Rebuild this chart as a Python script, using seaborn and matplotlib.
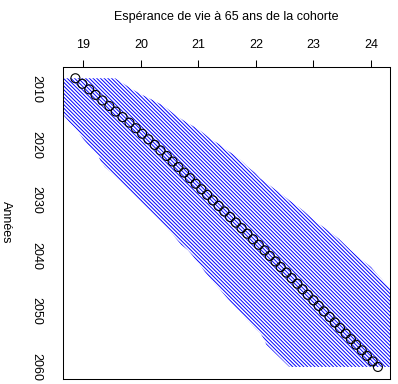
import numpy as np
import pandas as pd
import matplotlib
matplotlib.use("Agg")
import matplotlib.pyplot as plt
import seaborn as sns

years = list(range(2008, 2061))

esperance = [18.86, 18.98, 19.10, 19.21, 19.33, 19.45, 19.56, 19.68, 19.80, 19.91,
             20.02, 20.13, 20.24, 20.34, 20.45, 20.55, 20.65, 20.75, 20.85, 20.95,
             21.05, 21.15, 21.25, 21.35, 21.45, 21.55, 21.65, 21.75, 21.85, 21.95,
             22.05, 22.15, 22.24, 22.34, 22.43, 22.53, 22.62, 22.72, 22.81, 22.90,
             23.00, 23.09, 23.18, 23.28, 23.37, 23.46, 23.56, 23.65, 23.74, 23.84,
             23.93, 24.03, 24.12]

borne_haute = [19.55, 19.70, 19.85, 20.02, 20.22, 20.40, 20.52, 20.65, 20.80, 20.97,
               21.10, 21.22, 21.38, 21.50, 21.65, 21.76, 21.86, 21.98, 22.07, 22.20,
               22.33, 22.46, 22.58, 22.72, 22.84, 22.95, 23.06, 23.20, 23.33, 23.45,
               23.55, 23.65, 23.76, 23.88, 24.00, 24.08, 24.17, 24.26, 24.34, 24.45,
               24.55, 24.65, 24.75, 24.85, 24.95, 25.05, 25.15, 25.25, 25.35, 25.45,
               25.55, 25.65, 25.75]

borne_basse = [18.10, 18.20, 18.28, 18.36, 18.45, 18.52, 18.60, 18.68, 18.76, 18.86,
               18.93, 19.00, 19.08, 19.18, 19.26, 19.30, 19.37, 19.48, 19.58, 19.68,
               19.78, 19.88, 19.97, 20.07, 20.17, 20.27, 20.36, 20.45, 20.54, 20.62,
               20.70, 20.82, 20.90, 20.97, 21.05, 21.12, 21.20, 21.28, 21.37, 21.45,
               21.53, 21.62, 21.71, 21.80, 21.89, 21.98, 22.08, 22.14, 22.18, 22.28,
               22.38, 22.48, 22.58]

x_ticks = [19, 20, 21, 22, 23, 24]
y_ticks = [2010, 2020, 2030, 2040, 2050, 2060]
x_title = "Espérance de vie à 65 ans de la cohorte"
y_title = "Années"

df = pd.DataFrame({"annee": years, "esp": esperance,
                   "bas": borne_basse, "haut": borne_haute})

sns.set_theme(style="white")
plt.rcParams["font.family"] = ["Liberation Sans", "DejaVu Sans"]
plt.rcParams["hatch.linewidth"] = 0.7

fig = plt.figure(figsize=(3.98, 3.84), dpi=100)
ax = fig.add_axes([63.3 / 398, 1 - 378.5 / 384, (390 - 63.3) / 398, (378.5 - 66.7) / 384])

ax.fill_betweenx(df["annee"], df["bas"], df["haut"], facecolor="none",
                 edgecolor="#0000FF", linewidth=0, hatch="\\" * 9)

sns.scatterplot(data=df, x="esp", y="annee", ax=ax, marker="o", s=42,
                facecolors="none", edgecolor="black", linewidth=0.8, zorder=3)

xr = max(esperance) - min(esperance)
yr = max(years) - min(years)
ax.set_xlim(min(esperance) - 0.04 * xr, max(esperance) + 0.04 * xr)
ax.set_ylim(max(years) + 0.04 * yr, min(years) - 0.04 * yr)

ax.xaxis.tick_top()
ax.xaxis.set_label_position("top")
ax.set_xticks(x_ticks)
ax.set_yticks(y_ticks)
ax.set_xticklabels([str(v) for v in x_ticks], fontsize=9)
ax.set_yticklabels([str(v) for v in y_ticks], fontsize=9, rotation=-90, va="center")
ax.tick_params(axis="both", direction="out", length=5, width=0.75, color="black",
               colors="black", pad=6)
ax.tick_params(axis="y", pad=10)
ax.set_xlabel(x_title, fontsize=9, labelpad=14, color="black")
ax.set_ylabel(y_title, fontsize=9, rotation=-90, labelpad=22, color="black")
for s in ax.spines.values():
    s.set_color("black")
    s.set_linewidth(0.75)
    s.set_visible(True)

fig.savefig("out.png", dpi=100)
